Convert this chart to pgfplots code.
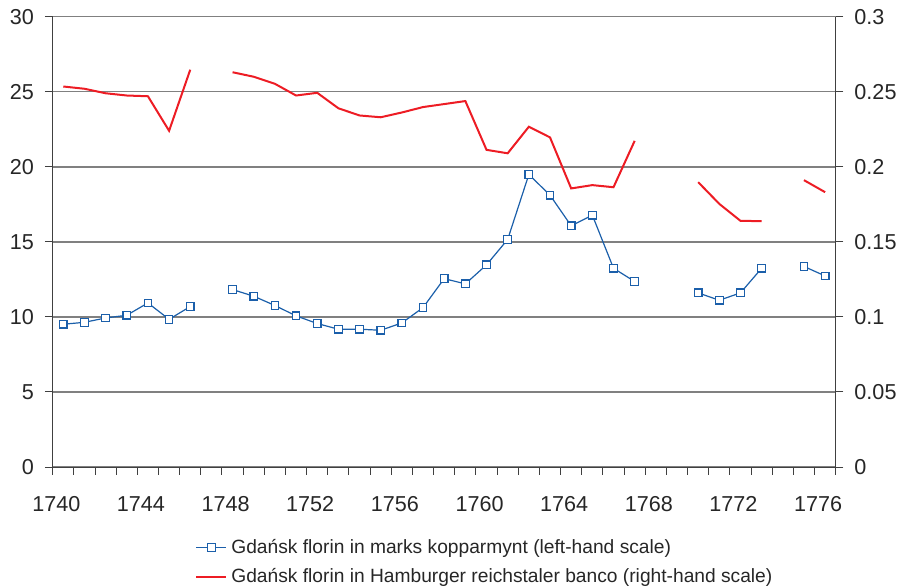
\documentclass[border=0pt]{standalone}
\usepackage{fontspec}
\setmainfont{Liberation Sans}
\usepackage{pgfplots}
\usepackage{pgfplotstable}
\pgfplotsset{compat=1.18}

\definecolor{kopblue}{HTML}{1B5FAA}
\definecolor{hamred}{HTML}{ED1C24}
\definecolor{gridgray}{HTML}{808080}
\definecolor{axisgray}{HTML}{404040}

% Gdansk florin in marks kopparmynt (left-hand scale)
\pgfplotstableread{
year val
1740 9.51
1741 9.64
1742 9.93
1743 10.11
1744 10.93
1745 9.84
1746 10.69
1747 nan
1748 11.82
1749 11.38
1750 10.76
1751 10.07
1752 9.56
1753 9.18
1754 9.18
1755 9.11
1756 9.60
1757 10.62
1758 12.55
1759 12.20
1760 13.47
1761 15.16
1762 19.49
1763 18.11
1764 16.07
1765 16.78
1766 13.24
1767 12.36
1768 nan
1769 nan
1770 11.60
1771 11.11
1772 11.60
1773 13.24
1774 nan
1775 13.36
1776 12.73
}\kopparmynt

% Gdansk florin in Hamburger reichstaler banco (right-hand scale)
\pgfplotstableread{
year val
1740 0.2535
1741 0.2520
1742 0.2490
1743 0.2475
1744 0.2470
1745 0.2240
1746 0.2647
1747 nan
1748 0.2630
1749 0.2600
1750 0.2553
1751 0.2475
1752 0.2493
1753 0.2390
1754 0.2342
1755 0.2330
1756 0.2362
1757 0.2398
1758 0.2418
1759 0.2438
1760 0.2113
1761 0.2090
1762 0.2267
1763 0.2196
1764 0.1856
1765 0.1878
1766 0.1864
1767 0.2173
1768 nan
1769 nan
1770 0.1898
1771 0.1753
1772 0.1640
1773 0.1638
1774 nan
1775 0.1911
1776 0.1831
}\banco

\pgfplotsset{
  base/.style={
    at={(0,0)}, anchor=south west,
    scale only axis, width=391.5pt, height=225.15pt,
    xmin=1739.5, xmax=1776.5,
    unbounded coords=jump,
    axis line style={axisgray, line width=0.5pt, -},
    tick style={axisgray, line width=0.5pt},
    tick align=outside,
    major tick length=3.85pt,
    tick label style={font=\fontsize{10.8}{13}\selectfont, text=black!85},
    /pgf/number format/assume math mode=true,
  }
}

\begin{document}
\begin{tikzpicture}
\useasboundingbox (-26.35pt,-59pt) rectangle (425.15pt,233.5pt);

\begin{axis}[
  base,
  ymin=0, ymax=30,
  axis x line*=bottom, axis y line*=left,
  xtick={1739.5,1740.5,...,1776.5},
  xticklabels={},
  extra x ticks={1740,1744,1748,1752,1756,1760,1764,1768,1772,1776},
  extra x tick labels={1740,1744,1748,1752,1756,1760,1764,1768,1772,1776},
  extra x tick style={major tick length=0pt,
    xticklabel style={anchor=base, yshift=-22.3pt, xshift=-3.5pt}},
  ytick={0,5,10,15,20,25,30},
  yticklabel style={xshift=-2pt},
  ymajorgrids,
  major grid style={gridgray, line width=0.7pt},
  legend style={at={(0.1817,-0.150)}, anchor=north west, draw=none, fill=none,
    font=\fontsize{9.6}{11.5}\selectfont, text=black!85,
    cells={anchor=west}, row sep=2pt, inner sep=0pt},
  legend image code/.code={
    \draw[mark repeat=2, mark phase=2, #1] plot coordinates {(0pt,0pt) (7.5pt,0pt) (15pt,0pt)};
  },
]
\addplot[kopblue, line width=0.6pt, mark=square*,
  mark options={fill=white, solid, line width=0.6pt}, mark size=1.9pt]
  table[x=year, y=val] {\kopparmynt};
\addlegendentry{Gdańsk florin in marks kopparmynt (left-hand scale)}
\addlegendimage{hamred, line width=1pt}
\addlegendentry{Gdańsk florin in Hamburger reichstaler banco (right-hand scale)}
\end{axis}

\begin{axis}[
  base,
  ymin=0, ymax=0.3,
  axis x line=none, axis y line*=right,
  ytick={0,0.05,0.1,0.15,0.2,0.25,0.3},
  yticklabels={0,0.05,0.1,0.15,0.2,0.25,0.3},
  yticklabel style={xshift=2pt},
]
\addplot[hamred, line width=1pt] table[x=year, y=val] {\banco};
\end{axis}
\end{tikzpicture}
\end{document}
